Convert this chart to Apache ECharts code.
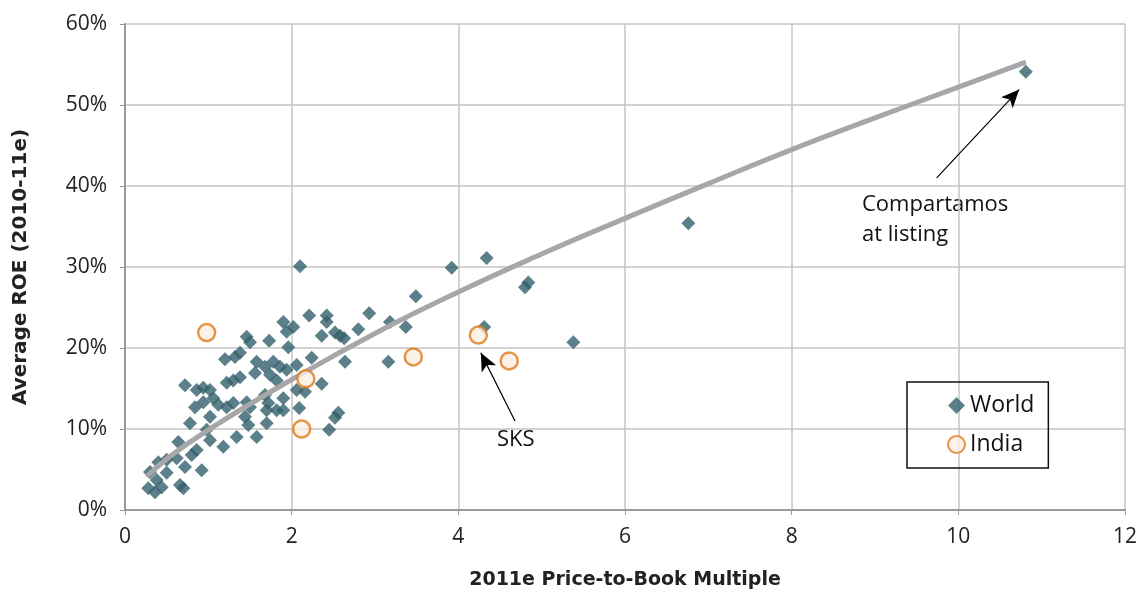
<!DOCTYPE html>
<html>
<head>
<meta charset="utf-8">
<script src="https://cdn.jsdelivr.net/npm/echarts@6/dist/echarts.min.js"></script>
<style>html,body{margin:0;padding:0;background:#fff;}#c{width:1141px;height:591px;}</style>
</head>
<body>
<div id="c"></div>
<script>
// World: [price-to-book, ROE %]
var worldData = [
 [10.81,54.1],[6.76,35.4],[4.34,31.1],[3.92,29.9],[2.10,30.1],[4.84,28.1],[4.80,27.5],[3.49,26.4],
 [4.31,22.6],[5.38,20.7],[3.37,22.6],[3.18,23.2],[3.16,18.3],[2.93,24.3],[2.80,22.3],[2.42,24.0],
 [2.42,23.2],[2.21,24.0],[2.36,21.5],[2.52,21.9],[2.58,21.5],[2.63,21.2],[2.64,18.3],[2.24,18.8],
 [2.36,15.6],[2.56,12.0],[2.52,11.4],[2.45,9.9],[2.09,12.6],[1.90,12.3],[2.06,14.8],[2.16,14.6],
 [2.06,17.9],[1.94,17.3],[1.96,20.1],[1.90,23.2],[2.02,22.6],[1.94,22.0],[1.73,20.9],[1.46,21.4],
 [1.50,20.7],[1.20,18.6],[1.32,18.9],[1.38,19.4],[1.58,18.3],[1.78,18.3],[1.86,17.7],[0.72,15.4],
 [0.86,14.8],[0.94,15.1],[1.02,14.8],[1.22,15.7],[1.30,16.0],[1.38,16.4],[1.56,16.9],[1.68,17.7],
 [1.74,16.7],[1.82,16.0],[0.84,12.7],[0.94,13.3],[1.06,13.8],[1.12,13.0],[1.22,12.7],[1.30,13.2],
 [1.46,13.3],[1.50,12.7],[1.70,12.3],[1.90,13.8],[0.78,10.7],[1.02,11.5],[1.44,11.5],[1.48,10.5],
 [1.70,10.7],[0.98,9.9],[1.34,9.0],[1.58,9.0],[1.18,7.8],[1.02,8.6],[0.64,8.4],[0.86,7.4],
 [0.80,6.8],[0.62,6.4],[0.50,6.2],[0.40,5.9],[0.72,5.3],[0.92,4.9],[0.30,4.7],[0.50,4.6],
 [0.38,3.7],[0.44,2.8],[0.28,2.7],[0.66,3.1],[0.70,2.7],[0.36,2.2],[1.68,14.2],[1.82,12.3],[1.72,13.2]
];
// India: [price-to-book, ROE %]
var indiaData = [[0.98,21.9],[2.17,16.2],[2.12,10.0],[3.46,18.9],[4.24,21.6],[4.61,18.4]];
// Trend line
var trendData = [[0.26,4.1],[0.5,6.3],[1,9.9],[2,16.1],[3,21.8],[4,26.9],[5,31.6],[6,36.0],[7,40.3],[8,44.5],[9,48.4],[10,52.2],[10.81,55.3]];
var xTicks = [0,2,4,6,8,10,12];
var yTicks = [0,10,20,30,40,50,60];

var FONT = '"Open Sans", Lato, sans-serif';
var TFONT = '"DejaVu Sans", "Open Sans", sans-serif';
var chart = echarts.init(document.getElementById('c'), null, {renderer:'canvas'});
chart.setOption({
  animation:false,
  backgroundColor:'#fff',
  grid:{left:125, right:16, top:24, bottom:81, containLabel:false, outerBoundsMode:'none'},
  xAxis:{
    type:'value', min:xTicks[0], max:xTicks[xTicks.length-1], interval:2,
    name:'2011e Price-to-Book Multiple', nameLocation:'middle', nameGap:61,
    nameTextStyle:{fontFamily:TFONT, fontSize:19, fontWeight:'bold', color:'#222'},
    axisLine:{lineStyle:{color:'#999', width:2}},
    axisTick:{show:true, length:5, lineStyle:{color:'#999'}},
    axisLabel:{fontFamily:FONT, fontSize:21, color:'#222', margin:17},
    splitLine:{show:true, lineStyle:{color:'#c4c4c4', width:1.5}}
  },
  yAxis:{
    type:'value', min:yTicks[0], max:yTicks[yTicks.length-1], interval:10,
    name:'Average ROE (2010-11e)', nameLocation:'middle', nameGap:94, nameRotate:90,
    nameTextStyle:{fontFamily:TFONT, fontSize:20, fontWeight:'bold', color:'#222'},
    axisLine:{show:true, lineStyle:{color:'#999', width:2}},
    axisTick:{show:true, length:5, lineStyle:{color:'#999'}},
    axisLabel:{fontFamily:FONT, fontSize:21, color:'#222', margin:18, formatter:function(v){return v+'%';}},
    splitLine:{show:true, lineStyle:{color:'#c4c4c4', width:1.5}}
  },
  legend:{
    orient:'vertical', left:907, top:382,
    data:['World','India'],
    borderColor:'#111', borderWidth:1.5, borderRadius:0,
    padding:[12,14,12,40], itemGap:16, itemWidth:17, itemHeight:17,
    textStyle:{fontFamily:FONT, fontSize:23, color:'#111'}
  },
  series:[
    {
      name:'Trend', type:'line', data:trendData, smooth:true, symbol:'none',
      lineStyle:{color:'#a7a7a9', width:5}, z:3, silent:true,
      markLine:{
        silent:true, symbol:['none','arrow'], symbolSize:[12,18],
        lineStyle:{color:'#000', width:1.2, type:'solid'}, label:{show:false},
        data:[
          [{coord:[9.74,41.0]},{coord:[10.73,51.9]}],
          [{coord:[4.68,11.0]},{coord:[4.27,19.4]}]
        ]
      }
    },
    {
      name:'World', type:'scatter', data:worldData, symbol:'diamond', symbolSize:14,
      itemStyle:{color:'#33606c'}, z:2
    },
    {
      name:'India', type:'scatter', data:indiaData, symbol:'circle', symbolSize:17,
      itemStyle:{color:'#fcefe4', borderColor:'#e07b1a', borderWidth:2.5}, z:4
    }
  ],
  graphic:[
    {type:'text', left:862, top:190, style:{text:'Compartamos\nat listing', font:'22px '+FONT, fill:'#111', lineHeight:30}},
    {type:'text', left:497, top:429, style:{text:'SKS', font:'22px '+FONT, fill:'#111'}}
  ]
});
</script>
</body>
</html>
